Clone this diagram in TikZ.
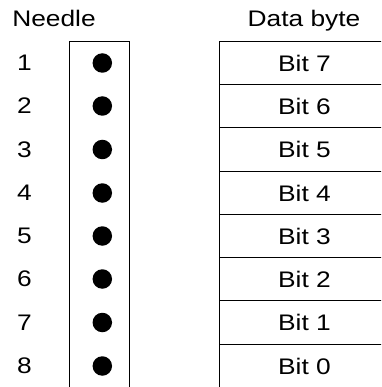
\documentclass[tikz,border=0pt]{standalone}
\usepackage{fontspec}
\usepackage{graphicx}
\setmainfont{Liberation Sans}
\newcommand\wtxt[1]{\scalebox{1.17}[1]{#1}}
\begin{document}
\begin{tikzpicture}[x=1pt,y=-1pt,
  lbl/.style={font=\fontsize{22.5}{26}\selectfont, inner sep=0pt},
  bitcell/.style={lbl, minimum width=171pt, minimum height=43pt},
  rule/.style={line width=1pt},
  pin/.style={circle, fill=black, inner sep=0pt, minimum size=19.5pt},
  needlebox/.style={draw, rule, minimum width=60pt, minimum height=370pt, inner sep=0pt, outer sep=0pt}]
\useasboundingbox (0,0) rectangle (381,387);
\clip (0,0) rectangle (381,387);
\node[lbl, anchor=base] (hneedle) at (54,27) {\wtxt{Needle}};
\node[lbl, anchor=base] (hdata) at (304,27) {\wtxt{Data byte}};
\node[needlebox, anchor=north west] (nbox) at (69.5,41.5) {};
\foreach \k/\b/\t/\u in {1/7/41.5/84.5,2/6/84.5/127.5,3/5/127.5/171.5,4/4/171.5/214.5,5/3/214.5/257.5,6/2/257.5/300.5,7/1/300.5/344.5,8/0/344.5/387.5}{
  \pgfmathsetmacro\yy{(\t+\u)/2}
  \node[lbl] (num\k) at (24.5,\yy) {\wtxt{\k}};
  \node[pin] (pin\k) at (102.3,\yy) {};
  \node[bitcell, outer sep=0pt] (bit\b) at (304.5,\yy) {\wtxt{Bit \b}};
  \coordinate (top\b) at (219.5,\t);
  \coordinate (topr\b) at (390,\t);
  \draw[rule] (top\b) -- (topr\b);
}
\coordinate (lbot) at (219.5,400);
\draw[rule] (top7) -- (lbot);
\end{tikzpicture}
\end{document}
